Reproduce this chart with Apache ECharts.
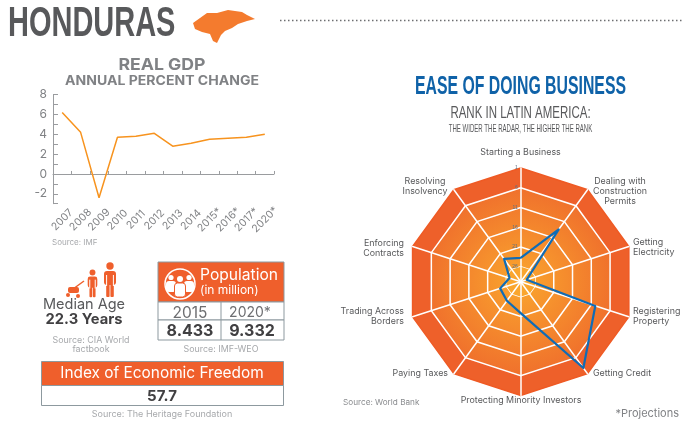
<!DOCTYPE html>
<html>
<head>
<meta charset="utf-8">
<style>
    html, body { margin: 0; padding: 0; background: #fff; }
    #main { width: 690px; height: 424px; }
</style>
<script src="https://cdn.jsdelivr.net/npm/echarts@6/dist/echarts.min.js"></script>
</head>
<body>
<div id="main"></div>
<script>
var years = ['2007', '2008', '2009', '2010', '2011', '2012', '2013', '2014', '2015*', '2016*', '2017*', '2020*'];
var gdpChange = [6.2, 4.2, -2.4, 3.7, 3.8, 4.1, 2.8, 3.1, 3.5, 3.6, 3.7, 4.0];

var businessTopics = [
    'Starting a Business', 'Dealing with\nConstruction\nPermits', 'Getting\nElectricity',
    'Registering\nProperty', 'Getting Credit', 'Protecting Minority Investors', 'Paying Taxes',
    'Trading Across\nBorders', 'Enforcing\nContracts', 'Resolving\nInsolvency'
];
var businessRanks = [23.9, 13.5, 28.4, 10, 2.8, 22, 24, 24.5, 27, 22.8];
var rankTicks = [26, 21, 16, 11, 6, 1];

var GREY = '#58595b', LIGHT = '#a7a9ac', ORANGE = '#ef5f2c', BLUE = '#0f62a8';
var BODY = 'Inter, sans-serif', WIDE = '"Liberation Sans", sans-serif';
var cx = 520.7, cy = 281.7;

// where each topic name sits around the web: x, y, align
var topicSpots = [
    [520.5, 152, 'center'], [620, 191, 'center'], [633, 247, 'left'], [633, 316, 'left'], [593, 373, 'left'],
    [521, 400, 'center'], [448, 373, 'right'], [404, 316, 'right'], [404, 248, 'right'], [425, 186, 'center']
];

var ringFill = {
    type: 'radial', x: cx, y: cy, r: 100, global: true,
    colorStops: [{offset: 0, color: '#faa62e'}, {offset: 1, color: '#ef6d2c'}]
};

// radar draws its axes counter clockwise, the picture reads clockwise
function clockwise(list) {
    return [list[0]].concat(list.slice(1).reverse());
}

function txt(x, y, text, size, color, align, weight, family, scaleX) {
    return {
        type: 'text', x: x, y: y, silent: true, scaleX: scaleX || 1,
        style: {
            text: text, fontSize: size, fill: color, align: align || 'center', verticalAlign: 'middle',
            fontWeight: weight || 'normal', fontFamily: family || BODY, lineHeight: 10
        }
    };
}
function box(x, y, w, h, fill, stroke) {
    return {
        type: 'rect', silent: true, shape: {x: x, y: y, width: w, height: h},
        style: {fill: fill, stroke: stroke || null, lineWidth: stroke ? 1 : 0}
    };
}
function pill(x, y, w, h, r, fill) {
    return {
        type: 'rect', silent: true, shape: {x: x, y: y, width: w, height: h, r: r},
        style: {fill: fill}
    };
}
function dot(x, y, r, fill) {
    return {type: 'circle', silent: true, shape: {cx: x, cy: y, r: r}, style: {fill: fill}};
}
function seg(x1, y1, x2, y2, color, w, dash) {
    return {
        type: 'line', silent: true, shape: {x1: x1, y1: y1, x2: x2, y2: y2},
        style: {stroke: color, lineWidth: w, lineDash: dash || null}
    };
}
function person(x, top, scale) {
    // small standing figure for the median age icon
    var s = scale;
    return [
        dot(x, top, 3.7 * s, ORANGE),
        pill(x - 6 * s, top + 5 * s, 12 * s, 14 * s, 3 * s, ORANGE),
        pill(x - 3.8 * s, top + 16 * s, 3.4 * s, 15 * s, 1, ORANGE),
        pill(x + 0.4 * s, top + 16 * s, 3.4 * s, 15 * s, 1, ORANGE),
        seg(x - 3.4 * s, top + 9 * s, x - 3.4 * s, top + 20 * s, '#fff', 1),
        seg(x + 3.4 * s, top + 9 * s, x + 3.4 * s, top + 20 * s, '#fff', 1)
    ];
}

var shapes = [
    txt(8, 24, 'HONDURAS', 42, GREY, 'left', 'bold', WIDE, 0.69),
    {
        type: 'polygon', silent: true,
        shape: {points: [[193, 23], [200, 18], [207, 13], [217, 13], [228, 10], [242, 12], [247, 15], [255, 19],
            [247, 21], [238, 24], [232, 28], [225, 31], [221, 35], [217, 43], [213, 41], [210, 34], [202, 32], [195, 29]]},
        style: {fill: '#f47b2e'}
    },
    seg(280, 20.5, 682, 20.5, '#6d6e71', 1.5, [1.5, 2.5]),
    txt(162, 65, 'REAL GDP', 16.5, '#808285', 'center', 'bold', BODY, 1.07),
    txt(162, 81.5, 'ANNUAL PERCENT CHANGE', 13, '#808285', 'center', 'bold', BODY, 1.08),
    txt(52, 243, 'Source: IMF', 8, LIGHT, 'left'),

    // median age
    seg(84, 281, 73, 289, ORANGE, 1.5),
    pill(68, 287, 11, 6, 2, ORANGE),
    dot(68, 295, 2, ORANGE),
    dot(78, 296, 2, ORANGE)
].concat(person(110, 266, 1), person(92.5, 272.5, 0.8), [
    txt(84, 305, 'Median Age', 14.5, GREY),
    txt(84, 320, '22.3 Years', 14.7, '#414042', 'center', 'bold'),
    txt(91, 340, 'Source: CIA World', 8.9, LIGHT),
    txt(91, 349, 'factbook', 8.9, LIGHT),

    // population table
    box(158, 262, 126, 40, ORANGE, '#8d999f'),
    box(158, 302, 126, 18, '#fff', '#8d999f'),
    box(158, 320, 126, 20, '#fff', '#8d999f'),
    seg(221, 302, 221, 340, '#8d999f', 1),
    {type: 'circle', silent: true, shape: {cx: 180, cy: 284, r: 15}, style: {fill: 'none', stroke: '#fff', lineWidth: 1.5}},
    dot(171, 277.5, 2.6, '#fff'), dot(189, 277.5, 2.6, '#fff'),
    pill(166, 281, 10, 11, 3, '#fff'), pill(184, 281, 10, 11, 3, '#fff'),
    dot(180, 279, 3, '#fff'),
    {type: 'rect', silent: true, shape: {x: 174.5, y: 283, width: 11, height: 14, r: 3}, style: {fill: '#fff', stroke: ORANGE, lineWidth: 1}},
    txt(200, 275.5, 'Population', 15.6, '#fff', 'left'),
    txt(200, 290, '(in million)', 12, '#fff', 'left'),
    txt(190, 313, '2015', 15.5, '#6d6e71'),
    txt(250, 313, '2020*', 14, '#6d6e71'),
    txt(190, 331, '8.433', 16, '#414042', 'center', 'bold'),
    txt(252, 331, '9.332', 16, '#414042', 'center', 'bold'),
    txt(221, 349, 'Source: IMF-WEO', 8.9, LIGHT),

    // economic freedom
    box(41.5, 361.5, 242, 24, ORANGE, '#8d999f'),
    box(41.5, 385.5, 242, 20, '#fff', '#8d999f'),
    txt(162, 373.5, 'Index of Economic Freedom', 15.4, '#fff'),
    txt(162, 396, '57.7', 15, '#414042', 'center', 'bold'),
    txt(162, 414, 'Source: The Heritage Foundation', 9, LIGHT),

    // right hand side
    txt(520.5, 87, 'EASE OF DOING BUSINESS', 25, BLUE, 'center', 'bold', WIDE, 0.633),
    txt(520.5, 113, 'RANK IN LATIN AMERICA:', 16.5, GREY, 'center', 'normal', WIDE, 0.696),
    txt(520.5, 129, 'THE WIDER THE RADAR, THE HIGHER THE RANK', 11, GREY, 'center', 'normal', WIDE, 0.55),
    txt(343, 403, 'Source: World Bank', 8.2, '#8a8c8f', 'left'),
    txt(679, 413.5, '*Projections', 11, '#808285', 'right')
], businessTopics.map(function (t, i) {
    var spot = topicSpots[i];
    return txt(spot[0], spot[1], t, 8.9, GREY, spot[2]);
}));

var option = {
    animation: false,
    graphic: {elements: shapes},
    grid: {left: 53, right: 416, top: 94.7, bottom: 220.3},
    xAxis: [
        {
            type: 'category', data: years, position: 'bottom',
            axisLine: {show: false, onZero: false}, axisTick: {show: false},
            axisLabel: {interval: 0, rotate: 45, align: 'center', verticalAlign: 'middle', margin: 16, fontSize: 10.5, color: '#808285', fontFamily: BODY}
        },
        {
            type: 'category', data: years, position: 'top',
            axisLine: {onZero: true, onZeroAxisIndex: 0, lineStyle: {color: '#9a9c9f'}},
            axisTick: {show: true, interval: 0, inside: false, length: 3, lineStyle: {color: '#9a9c9f'}},
            axisLabel: {show: false}
        }
    ],
    yAxis: {
        type: 'value', min: -3, max: 8, interval: 1,
        axisLine: {show: true, onZero: false, lineStyle: {color: '#9a9c9f'}},
        axisTick: {show: true, inside: true, length: 5, lineStyle: {color: '#9a9c9f'}},
        splitLine: {show: false},
        axisLabel: {
            margin: 6, fontSize: 12, color: '#808285', fontFamily: BODY,
            formatter: function (v) { return v % 2 === 0 ? String(v) : ''; }
        }
    },
    radar: [
        {
            // flat rings between rank 26 and rank 1
            center: [cx, cy], radius: [15, 113.7], startAngle: 90, splitNumber: 5, shape: 'polygon',
            indicator: businessTopics.map(function (t, i) {
                var ind = {name: '', min: 0, max: 25};
                if (i === 0) {
                    ind.axisLabel = {
                        show: true, fontSize: 5, color: '#5d6f80', margin: 3,
                        formatter: function (v, idx) { return rankTicks[idx]; }
                    };
                }
                return ind;
            }),
            axisName: {show: false},
            axisLine: {show: false}, axisTick: {show: false},
            splitLine: {lineStyle: {color: ['#fff', '#fff', '#fff', '#fff', '#fff', '#ef5a24'], width: 1.5}},
            splitArea: {show: true, areaStyle: {color: [ringFill, ringFill, ringFill, ringFill, '#ee602a']}}
        },
        {
            // centre of the web, inside rank 26
            center: [cx, cy], radius: 15, startAngle: 90, splitNumber: 1, shape: 'polygon',
            indicator: businessTopics.map(function () { return {name: '', min: 0, max: 1}; }),
            axisName: {show: false},
            axisLine: {show: false}, axisTick: {show: false}, splitLine: {show: false},
            splitArea: {show: true, areaStyle: {color: ['#faa62e']}}
        },
        {
            // rank 30 at the centre, rank 1 at the edge
            center: [cx, cy], radius: 113.7, startAngle: 90, splitNumber: 1, shape: 'polygon',
            indicator: clockwise(businessTopics).map(function (t) { return {name: t, min: 0, max: 29}; }),
            axisName: {show: false},
            axisLine: {lineStyle: {color: '#fff', width: 1.5}},
            axisTick: {show: false},
            splitLine: {show: false}, splitArea: {show: false}
        }
    ],
    series: [
        {
            type: 'line', xAxisIndex: 0, data: gdpChange, symbol: 'none',
            lineStyle: {color: '#f7931e', width: 1.5}
        },
        {
            type: 'radar', radarIndex: 2, symbol: 'none', z: 5,
            lineStyle: {color: '#0f6cb6', width: 2.2},
            data: [{value: clockwise(businessRanks).map(function (r) { return 30 - r; })}]
        }
    ]
};

var chart = echarts.init(document.getElementById('main'), null, {renderer: 'canvas'});
chart.setOption(option);
</script>
</body>
</html>
